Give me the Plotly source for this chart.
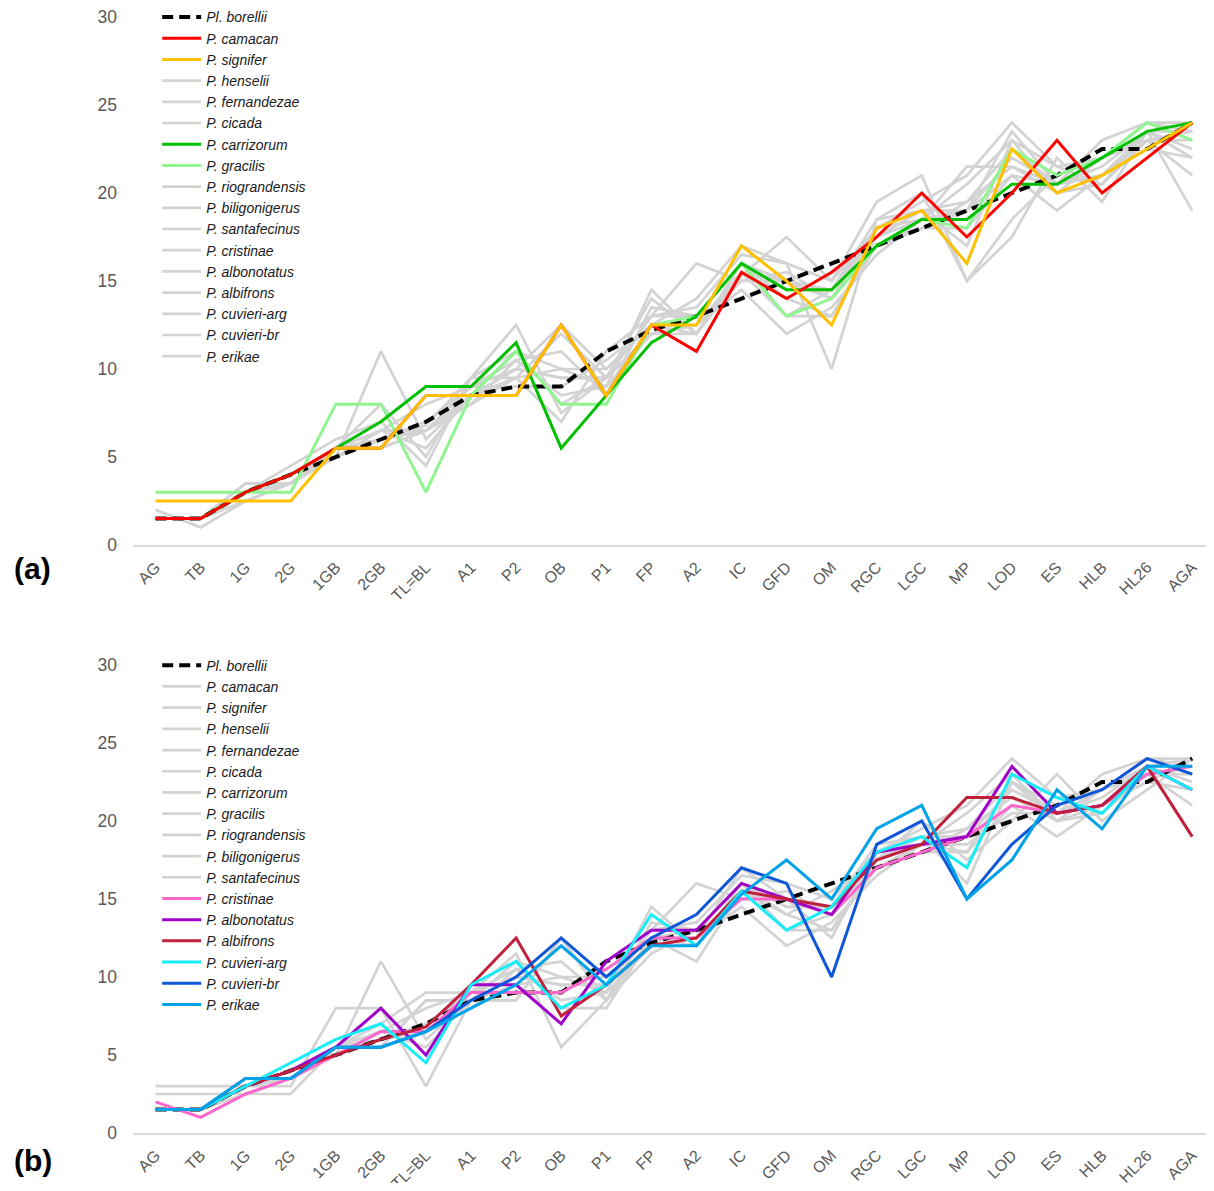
import plotly.graph_objects as go

categories = ["AG", "TB", "1G", "2G", "1GB", "2GB", "TL=BL", "A1", "P2", "OB", "P1", "FP",
              "A2", "IC", "GFD", "OM", "RGC", "LGC", "MP", "LOD", "ES", "HLB", "HL26", "AGA"]

species_names = ["Pl. borellii", "P. camacan", "P. signifer", "P. henselii", "P. fernandezae",
                 "P. cicada", "P. carrizorum", "P. gracilis", "P. riograndensis", "P. biligonigerus",
                 "P. santafecinus", "P. cristinae", "P. albonotatus", "P. albifrons",
                 "P. cuvieri-arg", "P. cuvieri-br", "P. erikae"]

borellii      = [1.5, 1.5, 3, 4, 5, 6, 7, 8.5, 9, 9, 11, 12.2, 13, 14, 15, 16, 17, 18, 19, 20, 21, 22.5, 22.5, 24]
camacan       = [1.5, 1.5, 3, 4, 5.5, 5.5, 8.5, 8.5, 8.5, 12.5, 8.5, 12.5, 11, 15.5, 14, 15.5, 17.5, 20, 17.5, 20, 23, 20, 22, 24]
signifer      = [2.5, 2.5, 2.5, 2.5, 5.5, 5.5, 8.5, 8.5, 8.5, 12.5, 8.5, 12.5, 12.5, 17, 15, 12.5, 18, 19, 16, 22.5, 20, 21, 22.5, 24]
henselii      = [1.5, 1.5, 3, 3.5, 5, 11, 6, 8.5, 10, 9.5, 9.5, 13, 16, 15, 15.5, 14, 17, 18, 19.5, 21.5, 20, 22, 23, 23]
fernandezae   = [1.5, 1.5, 2.5, 3.5, 5, 6, 6.5, 8, 10.5, 8.5, 9, 14.5, 12, 16, 14, 13, 17.5, 19, 19, 22, 20.5, 21.5, 23.5, 22.5]
cicada        = [1.5, 1.5, 3, 3.5, 5.5, 6.5, 5.5, 8.5, 9.5, 10, 9, 12, 12.5, 14.5, 12, 13.5, 16.5, 18.5, 20.5, 23, 20, 20.5, 23, 21]
carrizorum    = [1.5, 1.5, 3, 4, 5.5, 7, 9, 9, 11.5, 5.5, 8.5, 11.5, 13, 16, 14.5, 14.5, 17, 18.5, 18.5, 20.5, 20.5, 22, 23.5, 24]
gracilis      = [3, 3, 3, 3, 8, 8, 3, 8.5, 11, 8, 8, 12.5, 13, 16, 13, 14, 17, 18.5, 18, 22.5, 21, 22, 24, 23]
riograndensis = [1.5, 1.5, 3, 4, 5.5, 6, 7, 9, 10, 9.5, 9.5, 13, 13.5, 16.5, 16, 15, 18, 19.5, 21, 24, 21.5, 22, 24, 23.5]
biligonigerus = [1.5, 1.5, 3, 4, 5, 6, 6.5, 8.5, 11, 10, 10, 12.5, 12, 15.5, 13, 13, 17, 18, 18, 21, 19, 21, 22.5, 22]
santafecinus  = [1.5, 1.5, 3, 3.5, 5.5, 6.5, 8, 9, 10.5, 11, 8.5, 13.5, 13, 16, 14.5, 14.5, 18.5, 19, 19.5, 22.5, 20.5, 23, 24, 24]
cristinae     = [2, 1, 2.5, 3.5, 5, 6.5, 6.5, 9, 9, 9, 10.5, 12.5, 12.5, 15, 15, 14, 17, 18, 19, 21, 20.5, 21, 23, 23.5]
albonotatus   = [1.5, 1.5, 3, 4, 5.5, 8, 5, 9.5, 9.5, 7, 11, 13, 13, 16, 15, 14, 18, 18.5, 19, 23.5, 20.5, 21, 23.5, 22]
albifrons     = [1.5, 1.5, 3, 4, 5, 6, 6.8, 9.5, 12.5, 7.5, 9.5, 12, 12.5, 15.5, 15, 14.5, 17.5, 18.5, 21.5, 21.5, 20.5, 21, 23.5, 19]
cuvieri_arg   = [1.5, 1.5, 3, 4.5, 6, 7, 4.5, 9.5, 11, 8, 9.5, 14, 12, 15.5, 13, 14.5, 18, 19, 17, 23, 21.5, 20.5, 23.5, 22]
cuvieri_br    = [1.5, 1.5, 3.5, 3.5, 5.5, 5.5, 6.5, 8.5, 10, 12.5, 10, 12.5, 14, 17, 16, 10, 18.5, 20, 15, 18.5, 21, 22, 24, 23]
erikae        = [1.5, 1.5, 3.5, 3.5, 5.5, 5.5, 6.5, 8, 9.5, 12, 9.5, 12, 12, 15.3, 17.5, 15, 19.5, 21, 15, 17.5, 22, 19.5, 23.5, 23.5]

series_values = [borellii, camacan, signifer, henselii, fernandezae, cicada, carrizorum, gracilis,
                 riograndensis, biligonigerus, santafecinus, cristinae, albonotatus, albifrons,
                 cuvieri_arg, cuvieri_br, erikae]

GRAY = "#d3d3d3"
panel_a_colors = {"P. camacan": "#ff0000", "P. signifer": "#ffc000",
                  "P. carrizorum": "#00c000", "P. gracilis": "#8ff58f"}
panel_a_order = ["P. gracilis", "P. carrizorum", "P. camacan", "P. signifer"]
panel_b_colors = {"P. cristinae": "#ff66cc", "P. albonotatus": "#a000c8", "P. albifrons": "#c0203c",
                  "P. cuvieri-arg": "#18ecf6", "P. cuvieri-br": "#0f56d8", "P. erikae": "#00a2e8"}
panel_b_order = ["P. cristinae", "P. albonotatus", "P. albifrons", "P. cuvieri-arg",
                 "P. cuvieri-br", "P. erikae"]

fig = go.Figure()


def add_panel(row_axes, legend_name, colors, order):
    xa, ya = row_axes
    idx = {n: i for i, n in enumerate(species_names)}
    gray_names = [n for n in species_names[1:] if n not in colors]
    draw = gray_names + ["Pl. borellii"] + order
    for name in draw:
        i = idx[name]
        if name == "Pl. borellii":
            line = dict(color="black", width=4, dash="11px,6px")
        elif name in colors:
            line = dict(color=colors[name], width=3)
        else:
            line = dict(color=GRAY, width=2.7)
        fig.add_trace(go.Scatter(
            x=categories, y=series_values[i], mode="lines", name="<i>" + name + "</i>",
            line=line, xaxis=xa, yaxis=ya, legend=legend_name, legendrank=i + 1,
            hoverinfo="skip"))


add_panel(("x", "y"), "legend", panel_a_colors, panel_a_order)
add_panel(("x2", "y2"), "legend2", panel_b_colors, panel_b_order)

FONT = "Arial, Liberation Sans, sans-serif"
tick_font = dict(family=FONT, size=16, color="#595959")
xcommon = dict(type="category", categoryorder="array", categoryarray=categories,
               range=[-0.5, 23.35], showline=True, linecolor="#d9d9d9", linewidth=1.5,
               showgrid=False, zeroline=False, ticks="", tickangle=-45, tickfont=tick_font,
               ticklabelstandoff=5, ticklabeloverflow="allow")
ycommon = dict(range=[0, 30], dtick=5, showgrid=False, zeroline=False, showline=False,
               ticks="", tickfont=dict(family=FONT, size=17.5, color="#595959"),
               ticklabelstandoff=15, ticklabeloverflow="allow")

legend_common = dict(font=dict(family=FONT, size=14, color="#1a1a1a"),
                     bgcolor="rgba(0,0,0,0)", itemwidth=39, tracegroupgap=0,
                     xanchor="left", yanchor="top", x=0.0225)

# page body has an 8px margin, so the figure is sized and offset to compensate
fig.update_layout(
    width=1200, height=1175,
    margin=dict(l=125, r=0, t=9, b=50, autoexpand=False),
    plot_bgcolor="white", paper_bgcolor="white",
    showlegend=True,
    xaxis=dict(domain=[0, 1], anchor="y", **xcommon),
    yaxis=dict(domain=[0.5269, 1.0], anchor="x", **ycommon),
    xaxis2=dict(domain=[0, 1], anchor="y2", **xcommon),
    yaxis2=dict(domain=[0.0, 0.4194], anchor="x2", **ycommon),
    legend=dict(y=1.014, **legend_common),
    legend2=dict(y=0.4331, **legend_common),
    annotations=[
        dict(text="<b>(a)</b>", x=-0.1126, y=0.5054, xref="paper", yref="paper",
             xanchor="left", yanchor="middle", showarrow=False,
             font=dict(family=FONT, size=30, color="black")),
        dict(text="<b>(b)</b>", x=-0.1126, y=-0.0242, xref="paper", yref="paper",
             xanchor="left", yanchor="middle", showarrow=False,
             font=dict(family=FONT, size=30, color="black")),
    ],
)

fig.write_html("out.html")
